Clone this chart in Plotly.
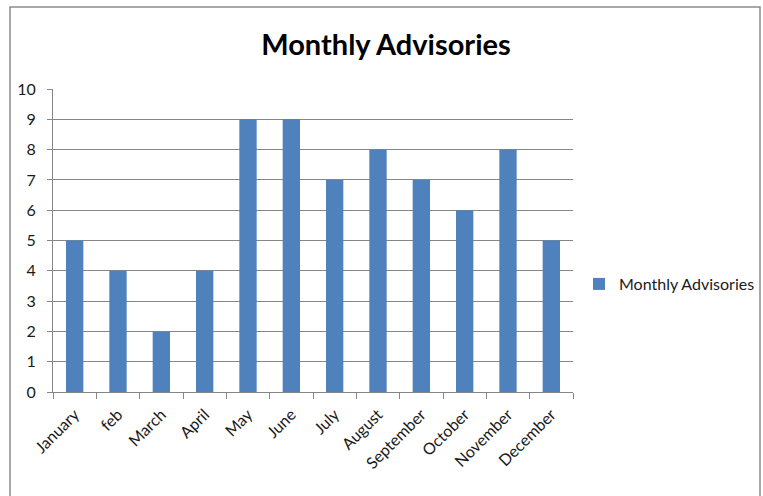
import plotly.graph_objects as go

months = ["January", "feb", "March", "April", "May", "June", "July", "August",
          "September", "October", "November", "December"]
advisories = [5, 4, 2, 4, 9, 9, 7, 8, 7, 6, 8, 5]
y_ticks = list(range(0, 11))

L, R, T, B = 53, 573, 89, 392
W, H = 763, 496
pw, ph = R - L, B - T

fig = go.Figure()
fig.add_trace(go.Bar(
    x=months, y=advisories, name="Monthly Advisories",
    marker=dict(color="#4F81BD", line=dict(width=0)),
    width=0.4,
))

def px_x(x):
    return (x - L) / pw

def px_y(y):
    return (B - y) / ph

fig.add_shape(type="rect", xref="paper", yref="paper",
              x0=px_x(10), x1=px_x(760), y0=px_y(520), y1=px_y(7),
              line=dict(color="#8C8C8C", width=1.5), layer="below")

font_main = "Lato, Liberation Sans, Arial"
fig.update_layout(
    width=W, height=H,
    margin=dict(l=L, r=W - R, t=T, b=H - B, autoexpand=False),
    paper_bgcolor="white", plot_bgcolor="white",
    title=dict(text="<b>Monthly Advisories</b>", x=(386) / W, xanchor="center",
               y=1 - 45 / H, yanchor="middle",
               font=dict(family=font_main, size=29, color="black")),
    font=dict(family=font_main, size=16, color="#1a1a1a"),
    showlegend=True,
    legend=dict(x=px_x(579), y=px_y(284), xanchor="left", yanchor="middle",
                itemwidth=30, font=dict(size=16), bgcolor="rgba(0,0,0,0)"),
    bargap=0.6,
)
fig.update_xaxes(type="category", tickangle=-45, ticks="outside", tickson="boundaries",
                 ticklen=6, tickcolor="#868686", showline=True, linecolor="#868686",
                 linewidth=1, showgrid=False, automargin=False, ticklabelstandoff=6)
fig.update_yaxes(range=[0, 10], tickvals=y_ticks, ticks="outside", ticklen=5,
                 tickcolor="#868686", showline=True, linecolor="#868686", linewidth=1,
                 showgrid=True, gridcolor="#868686", gridwidth=1, zeroline=False,
                 automargin=False, ticklabelstandoff=8)

fig.write_html("out.html", config={"displayModeBar": False},
               post_script="document.body.style.margin='0';document.body.style.padding='0';")
